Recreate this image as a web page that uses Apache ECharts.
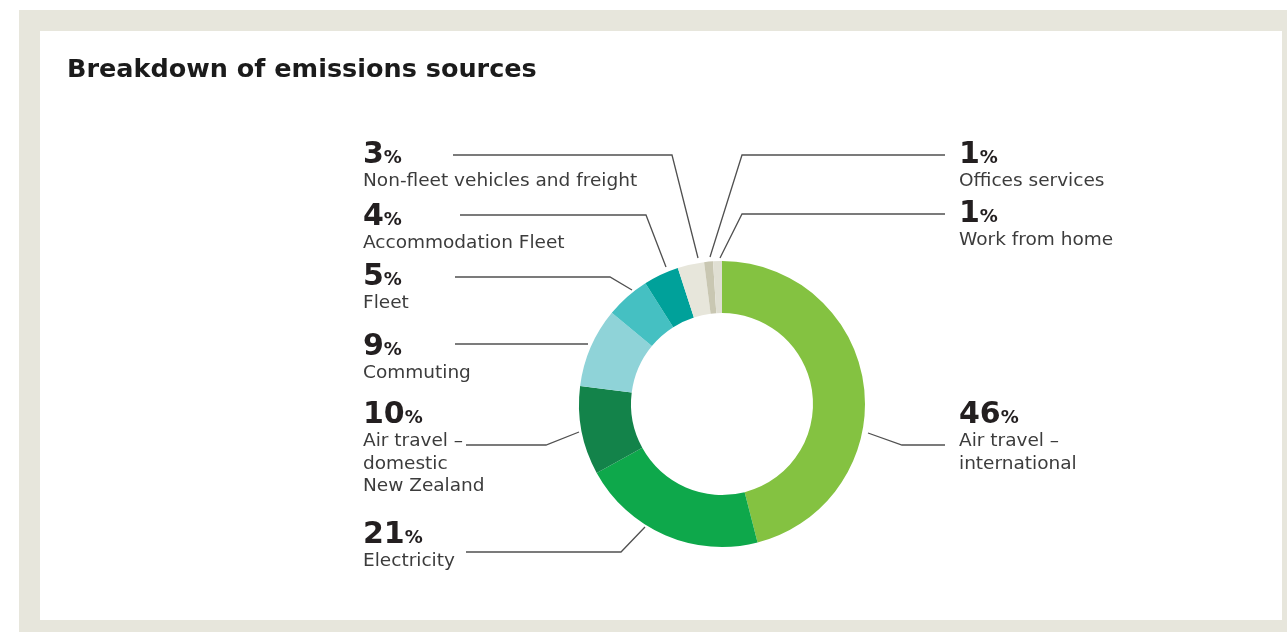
<!DOCTYPE html>
<html>
<head>
<meta charset="utf-8">
<script src="https://cdn.jsdelivr.net/npm/echarts@6/dist/echarts.min.js"></script>
<style>
html,body{margin:0;padding:0;background:#fff;}
#chart{width:1287px;height:632px;}
</style>
</head>
<body>
<div id="chart"></div>
<script>
// ---- data ----
const categories = [
  'Air travel –\ninternational',
  'Electricity',
  'Air travel –\ndomestic\nNew Zealand',
  'Commuting',
  'Fleet',
  'Accommodation Fleet',
  'Non-fleet vehicles and freight',
  'Offices services',
  'Work from home'
];
const percentages = [46, 21, 10, 9, 5, 4, 3, 1, 1];
const titleText = 'Breakdown of emissions sources';

// ---- styles / layout (not data) ----
const colors = ['#84c241', '#0ea84b', '#13834a', '#8fd3d8', '#45c0c2', '#00a19a', '#e7e6db', '#c9c7b2', '#e0dfd3'];
// label anchor (left, number-row centre) and leader-line points
const labelPos = [
  {x: 959, cy: 415, line: [[868, 433], [902, 445], [945, 445]]},
  {x: 363, cy: 535, line: [[645, 527], [621, 552], [466, 552]]},
  {x: 363, cy: 415, line: [[579, 432], [546, 445], [466, 445]]},
  {x: 363, cy: 347, line: [[588, 344], [520, 344], [455, 344]]},
  {x: 363, cy: 277, line: [[632, 290], [610, 277], [455, 277]]},
  {x: 363, cy: 217, line: [[666, 267], [646, 215], [460, 215]]},
  {x: 363, cy: 155, line: [[698, 258], [672, 155], [453, 155]]},
  {x: 959, cy: 155, line: [[710, 257], [742, 155], [945, 155]]},
  {x: 959, cy: 214, line: [[720, 258], [742, 214], [945, 214]]}
];
const NUM_LH = 30;

const chart = echarts.init(document.getElementById('chart'), null, {renderer: 'canvas'});
chart.setOption({
  animation: false,
  graphic: [
    {type: 'rect', z: -10, shape: {x: 19, y: 10, width: 1268, height: 622}, style: {fill: '#e7e6dc'}, silent: true},
    {type: 'rect', z: -9, shape: {x: 40, y: 31, width: 1242, height: 589}, style: {fill: '#ffffff'}, silent: true}
  ],
  title: {
    text: titleText,
    left: 62,
    top: 52,
    textStyle: {fontFamily: 'DejaVu Sans', fontWeight: 'bold', fontSize: 25.5, color: '#1b1b1b'}
  },
  series: [{
    type: 'pie',
    center: [722, 404],
    radius: [91, 143],
    startAngle: 90,
    clockwise: true,
    avoidLabelOverlap: false,
    minShowLabelAngle: 0,
    data: categories.map((c, i) => ({name: c, value: percentages[i], itemStyle: {color: colors[i]}})),
    label: {
      show: true,
      formatter: p => '{v|' + percentages[p.dataIndex] + '}{p|%}\n{n|' + p.name.split('\n').join('}\n{n|') + '}',
      rich: {
        v: {fontFamily: 'DejaVu Sans', fontWeight: 'bold', fontSize: 30, color: '#231f20', lineHeight: NUM_LH},
        p: {fontFamily: 'DejaVu Sans', fontWeight: 'bold', fontSize: 18, color: '#231f20', lineHeight: NUM_LH, verticalAlign: 'bottom', padding: [0, 0, 3, 0]},
        n: {fontFamily: 'DejaVu Sans', fontSize: 18.5, color: '#3c3c3c', lineHeight: 22.5}
      }
    },
    labelLine: {show: true, lineStyle: {color: '#505050', width: 1.3}},
    labelLayout: function (params) {
      const L = labelPos[params.dataIndex];
      return {
        x: L.x,
        y: L.cy - NUM_LH / 2,
        align: 'left',
        verticalAlign: 'top',
        labelLinePoints: L.line
      };
    },
    emphasis: {disabled: true}
  }]
});
</script>
</body>
</html>
